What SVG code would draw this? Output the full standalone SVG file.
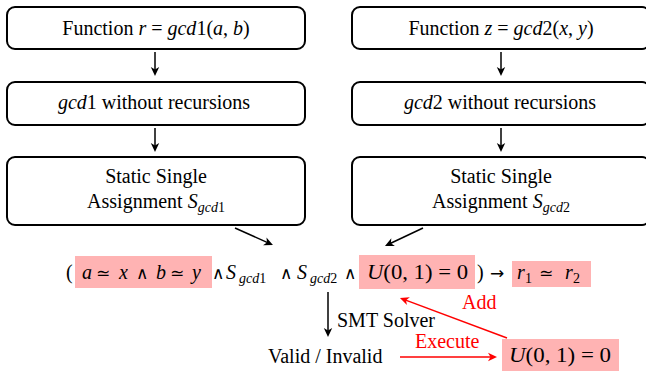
<svg xmlns="http://www.w3.org/2000/svg" width="646" height="371" viewBox="0 0 646 371">
<defs>
<marker id="ak" markerUnits="userSpaceOnUse" viewBox="-10 -5 11 10" refX="-4" refY="0" markerWidth="11" markerHeight="10" orient="auto" overflow="visible">
<path d="M0,0 L-9,-4.2 L-6.5,0 L-9,4.2 Z" fill="#000"/>
</marker>
<marker id="ar" markerUnits="userSpaceOnUse" viewBox="-10 -5 11 10" refX="-4" refY="0" markerWidth="11" markerHeight="10" orient="auto" overflow="visible">
<path d="M0,0 L-9,-4.2 L-6.5,0 L-9,4.2 Z" fill="#f00"/>
</marker>
</defs>

<g id="f1">
<rect fill="#fff" stroke="#000" stroke-width="2" x="7" y="7" width="298" height="42" rx="8"/>
<text font-family="Liberation Serif" font-size="20" x="156" y="35" text-anchor="middle">Function <tspan font-style="italic">r</tspan> = <tspan font-style="italic">gcd</tspan>1(<tspan font-style="italic">a</tspan>, <tspan font-style="italic">b</tspan>)</text>
</g>
<g id="f2">
<rect fill="#fff" stroke="#000" stroke-width="2" x="352" y="7" width="298" height="42" rx="8"/>
<text font-family="Liberation Serif" font-size="20" x="501" y="35" text-anchor="middle">Function <tspan font-style="italic">z</tspan> = <tspan font-style="italic">gcd</tspan>2(<tspan font-style="italic">x</tspan>, <tspan font-style="italic">y</tspan>)</text>
</g>
<g id="n1">
<rect fill="#fff" stroke="#000" stroke-width="2" x="7" y="82" width="298" height="43" rx="8"/>
<text font-family="Liberation Serif" font-size="20" x="154" y="109" text-anchor="middle"><tspan font-style="italic">gcd</tspan>1 without recursions</text>
</g>
<g id="n2">
<rect fill="#fff" stroke="#000" stroke-width="2" x="352" y="82" width="298" height="43" rx="8"/>
<text font-family="Liberation Serif" font-size="20" x="500" y="109" text-anchor="middle"><tspan font-style="italic">gcd</tspan>2 without recursions</text>
</g>
<g id="s1">
<rect fill="#fff" stroke="#000" stroke-width="2" x="7" y="157" width="298" height="68" rx="8"/>
<text font-family="Liberation Serif" font-size="20" x="156" y="183" text-anchor="middle">Static Single</text>
<text font-family="Liberation Serif" font-size="20" x="156" y="208" text-anchor="middle">Assignment <tspan font-style="italic">S</tspan><tspan font-style="italic" font-size="14" dy="4">gcd</tspan><tspan font-size="14">1</tspan></text>
</g>
<g id="s2">
<rect fill="#fff" stroke="#000" stroke-width="2" x="352" y="157" width="298" height="68" rx="8"/>
<text font-family="Liberation Serif" font-size="20" x="501" y="183" text-anchor="middle">Static Single</text>
<text font-family="Liberation Serif" font-size="20" x="501" y="208" text-anchor="middle">Assignment <tspan font-style="italic">S</tspan><tspan font-style="italic" font-size="14" dy="4">gcd</tspan><tspan font-size="14">2</tspan></text>
</g>

<g id="formula">
<rect fill="#ffb3b3" x="75" y="256" width="137" height="32"/>
<rect fill="#ffb3b3" x="359" y="255" width="116" height="34"/>
<rect fill="#ffb3b3" x="512" y="261" width="79" height="26"/>
<text font-family="Liberation Serif" font-size="20" x="66" y="279">(</text>
<text font-family="Liberation Serif" font-size="20" x="82" y="279" font-style="italic">a</text>
<text font-family="DejaVu Sans" font-size="17" x="96" y="279">&#8771;</text>
<text font-family="Liberation Serif" font-size="20" x="119" y="279" font-style="italic">x</text>
<text font-family="DejaVu Sans" font-size="17" x="136" y="279">&#8743;</text>
<text font-family="Liberation Serif" font-size="20" x="156" y="279" font-style="italic">b</text>
<text font-family="DejaVu Sans" font-size="17" x="170" y="279">&#8771;</text>
<text font-family="Liberation Serif" font-size="20" x="192" y="279" font-style="italic">y</text>
<text font-family="DejaVu Sans" font-size="17" x="212" y="279">&#8743;</text>
<text font-family="Liberation Serif" font-size="20" x="226" y="279" font-style="italic">S</text>
<text font-family="Liberation Serif" font-size="14" x="239" y="283"><tspan font-style="italic">gcd</tspan>1</text>
<text font-family="DejaVu Sans" font-size="17" x="280" y="279">&#8743;</text>
<text font-family="Liberation Serif" font-size="20" x="297" y="279" font-style="italic">S</text>
<text font-family="Liberation Serif" font-size="14" x="310" y="283"><tspan font-style="italic">gcd</tspan>2</text>
<text font-family="DejaVu Sans" font-size="17" x="344" y="279">&#8743;</text>
<text font-family="Liberation Serif" font-size="20" x="367" y="279" textLength="101" lengthAdjust="spacingAndGlyphs"><tspan font-style="italic">U</tspan>(0, 1) = 0</text>
<text font-family="Liberation Serif" font-size="20" x="477" y="279">)</text>
<text font-family="DejaVu Sans" font-size="17" x="490" y="279">&#8594;</text>
<text font-family="Liberation Serif" font-size="20" x="517" y="279" font-style="italic">r</text>
<text font-family="Liberation Serif" font-size="14" x="525" y="283">1</text>
<text font-family="DejaVu Sans" font-size="17" x="539" y="279">&#8771;</text>
<text font-family="Liberation Serif" font-size="20" x="565" y="279" font-style="italic">r</text>
<text font-family="Liberation Serif" font-size="14" x="573" y="283">2</text>
</g>

<g id="smt">
<text font-family="Liberation Serif" font-size="20" x="337" y="327">SMT Solver</text>
</g>
<g id="valid">
<text font-family="Liberation Serif" font-size="20" x="268" y="363">Valid / Invalid</text>
</g>
<g id="u">
<rect fill="#ffb3b3" x="502" y="339" width="117" height="32"/>
<text font-family="Liberation Serif" font-size="20" x="509" y="362" textLength="102" lengthAdjust="spacingAndGlyphs"><tspan font-style="italic">U</tspan>(0, 1) = 0</text>
</g>
<g id="labels">
<text font-family="Liberation Serif" font-size="20" x="415" y="348" fill="#f00">Execute</text>
<text font-family="Liberation Serif" font-size="20" x="462" y="309" fill="#f00">Add</text>
</g>

<g id="connectors" fill="none" stroke-width="1.5">
<g stroke="#000" marker-end="url(#ak)">
<line x1="155" y1="52" x2="155" y2="72"/>
<line x1="155" y1="128" x2="155" y2="148"/>
<line x1="501" y1="52" x2="501" y2="72"/>
<line x1="501" y1="128" x2="501" y2="148"/>
<line x1="235" y1="228" x2="269.3" y2="243.4"/>
<line x1="423" y1="228" x2="388.6" y2="244.3"/>
<line x1="328" y1="292" x2="328" y2="333"/>
</g>
<g stroke="#f00" marker-end="url(#ar)">
<line x1="400" y1="357" x2="493" y2="357"/>
<line x1="507" y1="338" x2="403.7" y2="299.4"/>
</g>
</g>
</svg>
